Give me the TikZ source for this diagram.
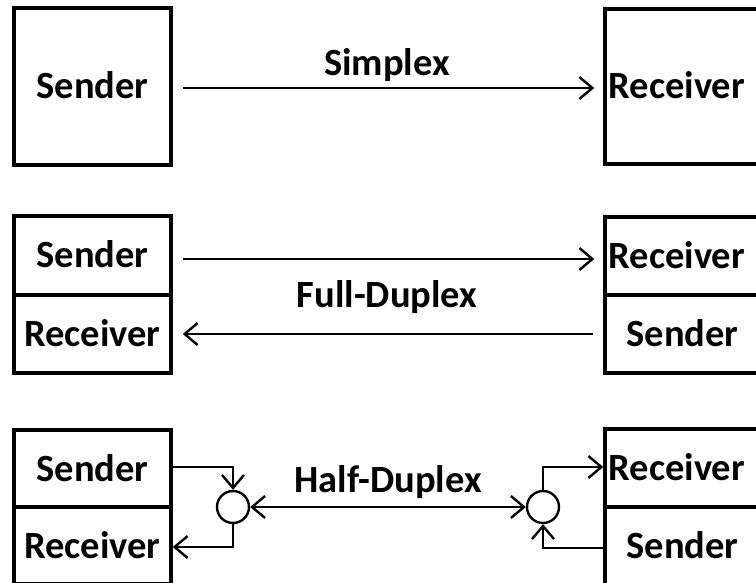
\documentclass[tikz,border=0pt]{standalone}
\usepackage{fontspec}
\setmainfont{Carlito}
\usetikzlibrary{arrows.meta}
\begin{document}
\begin{tikzpicture}[x=1pt,y=-1pt,
  box/.style={draw=black, line width=3.5pt, rectangle, inner sep=0pt, minimum width=157pt},
  lbl/.style={font=\fontsize{38.5}{42}\selectfont\bfseries, inner sep=0pt, text height=25pt, text depth=0pt},
  conn/.style={line width=2.4pt, -{Straight Barb[length=13pt,width=22pt,line width=2.4pt]}},
  bconn/.style={line width=2.4pt, {Straight Barb[length=13pt,width=22pt,line width=2.4pt]}-{Straight Barb[length=13pt,width=22pt,line width=2.4pt]}},
  junction/.style={draw=black, line width=2.4pt, circle, minimum size=32pt, inner sep=0pt}
]
\useasboundingbox (0,0) rectangle (756,583);
\fill[white] (0,0) rectangle (756,583);
% ---- Simplex ----
\node[box, minimum height=157pt] (L1) at (92.5,86.5) {};
\node[box, minimum height=155pt] (R1) at (683.5,86.5) {};
\node[lbl] (L1t) at (L1.center) {Sender};
\node[lbl, anchor=west] (R1t) at (608.5,86.5) {Receiver};
\draw[conn, shorten <=10pt, shorten >=9pt] ([yshift=-1.5pt]L1.east) -- ([yshift=-1.5pt]R1.west);
\node[lbl, anchor=base] (simplex) at (387,76) {Simplex};
% ---- Full-Duplex ----
\node[box, minimum height=79pt] (L2s) at (92.5,255.5) {};
\node[box, minimum height=78pt] (L2r) at (92.5,334) {};
\node[box, minimum height=78pt] (R2r) at (683.5,256) {};
\node[box, minimum height=78pt] (R2s) at (683.5,334) {};
\node[lbl] (L2st) at (L2s.center) {Sender};
\node[lbl] (L2rt) at (L2r.center) {Receiver};
\node[lbl, anchor=west] (R2rt) at (608.5,256) {Receiver};
\node[lbl] (R2st) at (682.5,334) {Sender};
\draw[conn, shorten <=10pt, shorten >=9pt] ([yshift=-3.5pt]L2s.east) -- ([yshift=-3pt]R2r.west);
\draw[conn, shorten <=10pt, shorten >=10pt] (R2s.west) -- (L2r.east);
\node[lbl, anchor=base] (full) at (387,308) {Full-Duplex};
% ---- Half-Duplex ----
\node[box, minimum height=77pt] (L3s) at (92.5,468.5) {};
\node[box, minimum height=77pt] (L3r) at (92.5,545.5) {};
\node[box, minimum height=78pt] (R3r) at (683.5,468) {};
\node[box, minimum height=78pt] (R3s) at (683.5,546) {};
\node[lbl] (L3st) at (L3s.center) {Sender};
\node[lbl] (L3rt) at (L3r.center) {Receiver};
\node[lbl, anchor=west] (R3rt) at (608.5,468) {Receiver};
\node[lbl] (R3st) at (682.5,546) {Sender};
\node[junction] (C1) at (233,507) {};
\node[junction] (C2) at (543,507) {};
\draw[conn] ([yshift=1.5pt]L3s.east) -| (C1.north);
\draw[conn] (C1.south) |- ([yshift=-1.5pt]L3r.east);
\draw[bconn] (C1.east) -- (C2.west);
\draw[conn] (C2.north) |- ([yshift=1pt]R3r.west);
\draw[conn] ([yshift=-2pt]R3s.west) -| (C2.south);
\node[lbl, anchor=base] (half) at (388,492) {Half-Duplex};
\end{tikzpicture}
\end{document}
